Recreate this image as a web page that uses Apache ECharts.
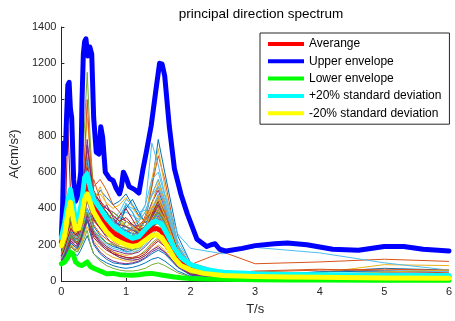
<!DOCTYPE html>
<html>
<head>
<meta charset="utf-8">
<script src="https://cdn.jsdelivr.net/npm/echarts@6/dist/echarts.min.js"></script>
<style>
  html, body { margin: 0; padding: 0; background: #fff; }
  #chart { width: 455px; height: 321px; }
</style>
</head>
<body>
<div id="chart"></div>
<script>
// Period grid (s) shared by the individual record spectra
const periods = [0, 0.05, 0.1, 0.15, 0.2, 0.25, 0.3, 0.35, 0.4, 0.45, 0.5, 0.6, 0.7, 0.8, 0.9, 1.0, 1.1, 1.2, 1.3, 1.4, 1.5, 1.6, 1.8, 2.0, 2.5, 3.0, 4.0, 5.0, 6.0];

// Individual record spectra, A (cm/s^2)
const rec01 = [150,220,300,260,240,280,420,560,680,520, 400,330,280,250,300,420,380,300,330,520, 780,600,250,100,45,30,50,70,60];
const rec02 = [130,180,240,350,300,260,320,500,720,600, 420,330,260,220,200,230,250,280,360,520, 690,560,200,90,160,95,105,120,108];
const rec03 = [120,160,200,280,240,300,420,640,900,700, 480,360,300,260,240,220,230,260,340,560, 730,520,180,70,30,25,45,90,85];
const rec04 = [110,150,190,230,210,220,300,420,520,430, 350,290,240,200,180,170,180,200,260,340, 420,360,160,60,35,30,32,35,33];
const rec05 = [140,200,280,330,260,300,500,800,1150,750, 480,380,320,270,240,230,250,280,330,400, 460,380,150,50,25,20,15,12,10];
const rec06 = [170,230,320,380,300,280,360,450,560,480, 400,330,300,320,350,380,360,340,420,760, 640,480,260,180,150,185,155,100,60];
const rec07 = [160,210,850,420,280,330,380,460,600,560, 500,430,380,330,300,280,260,240,260,300, 340,300,150,70,40,30,28,30,30];
const rec08 = [100,140,180,210,190,200,260,330,400,360, 300,250,210,190,180,160,170,190,240,300, 330,270,120,50,25,18,14,12,10];
const rec09 = [180,260,380,460,360,330,420,520,600,500, 420,360,330,300,260,240,230,250,300,400, 470,380,170,70,40,55,65,55,45];
const rec10 = [90,130,160,200,180,170,220,300,380,340, 280,230,190,160,150,140,150,170,220,290, 320,250,110,45,22,18,15,12,10];
const rec11 = [140,190,260,320,270,250,330,470,650,520, 400,320,270,240,220,200,190,200,240,300, 360,300,140,60,30,25,40,38,35];
const rec12 = [80,110,150,190,170,160,200,260,330,300, 260,210,180,150,130,120,125,140,170,210, 240,200,90,40,20,15,12,10,8];
const rec13 = [200,280,400,480,380,340,400,520,700,580, 460,380,340,330,360,420,400,360,420,560, 600,470,220,100,50,35,28,22,20];
const rec14 = [120,170,230,290,250,270,350,480,620,500, 380,310,260,230,210,200,200,210,250,330, 380,320,150,60,30,22,18,15,12];
const rec15 = [160,230,330,400,350,330,380,480,560,470, 420,380,340,300,320,400,450,380,320,360, 420,350,170,80,45,35,50,55,55];
const rec16 = [100,150,210,260,230,210,260,340,440,380, 310,260,230,210,190,180,190,210,260,340, 390,330,150,60,30,22,18,15,14];
const rec17 = [150,210,290,350,290,300,380,500,640,540, 430,360,320,290,280,300,320,330,380,480, 560,440,200,80,40,30,25,22,20];
const rec18 = [90,120,160,190,170,180,230,300,380,330, 270,220,190,170,160,150,150,160,190,230, 260,220,100,45,22,17,30,32,30];
const rec19 = [130,180,240,280,240,250,320,430,560,460, 360,300,260,240,230,220,210,220,260,320, 370,300,140,55,28,22,18,15,13];
const rec20 = [110,160,220,270,240,230,300,400,500,420, 340,290,260,250,270,300,290,270,300,380, 450,370,170,70,35,28,22,18,16];
const rec21 = [200,270,360,420,340,310,380,540,750,620, 480,400,350,330,310,300,280,270,300,360, 420,350,170,70,35,28,40,45,42];
const rec22 = [140,200,260,300,280,300,350,420,480,450, 440,500,460,420,440,480,420,360,330,380, 440,380,180,75,40,30,25,20,18];
const rec23 = [170,240,330,390,330,350,450,620,1000,650, 520,560,500,420,380,330,300,290,330,430, 520,420,190,75,38,28,22,20,18];
const rec24 = [120,170,240,290,260,270,340,420,560,500, 460,480,430,400,420,460,410,350,330,400, 470,380,170,65,33,25,20,17,15];
const rec25 = [150,210,290,340,300,310,400,560,780,600, 480,420,400,380,350,330,310,300,340,430, 500,400,180,70,35,27,35,33,30];
const rec26 = [110,160,220,260,230,230,290,380,480,420, 380,400,380,340,320,300,280,270,300,370, 430,360,160,60,30,22,18,15,13];
const rec27 = [130,190,260,320,280,280,360,470,620,520, 420,360,330,340,380,450,420,380,390,470, 560,450,200,80,40,30,24,20,18];
const rec28 = [100,140,190,240,220,210,280,380,500,430, 360,300,270,300,360,400,340,280,270,320, 380,320,150,60,30,23,18,15,13];
const rec29 = [90,110,140,170,150,140,170,210,250,200, 150,120,100,85,75,70,75,85,100,120, 130,110,55,25,13,10,8,7,6];
const rec30 = [120,150,190,220,200,190,230,290,340,300, 250,210,180,160,140,130,130,140,160,200, 230,190,90,40,20,15,12,10,9];
const rec31 = [100,130,170,200,180,170,200,250,300,260, 220,180,150,130,120,110,110,120,140,170, 200,170,80,35,18,14,11,9,8];
const rec32 = [130,160,210,250,220,200,240,300,370,320, 260,210,180,150,130,120,115,120,140,170, 190,160,80,35,18,14,25,28,27];
const rec33 = [105,130,160,190,170,160,190,230,280,200, 150,110,85,70,60,55,55,60,70,90, 100,85,45,22,11,9,7,6,5];
const rec34 = [140,180,230,270,240,220,260,320,400,340, 280,230,200,180,170,160,160,170,200,250, 290,240,110,45,22,17,14,12,10];
const rec35 = [115,150,200,250,220,200,230,280,330,290, 240,200,170,150,140,130,125,130,150,190, 220,190,90,38,19,14,12,10,9];
const rec36 = [170,240,310,360,330,300,380,460,520,430, 360,420,380,300,260,330,300,260,280,350, 400,330,160,65,32,25,20,17,15];
const rec37 = [140,190,260,300,270,300,400,560,640,480, 560,450,360,310,280,260,300,270,290,360, 450,380,170,70,35,27,22,18,16];
const rec38 = [160,220,300,340,300,320,430,520,560,480, 440,520,420,360,330,300,280,300,340,420, 540,430,180,70,35,26,22,19,17];
const rec39 = [130,170,230,270,250,260,330,460,560,600, 470,380,420,350,300,270,260,260,290,350, 420,340,150,60,30,24,20,17,15];
const rec40 = [190,260,350,400,350,320,380,460,580,520, 420,360,330,380,350,300,270,250,270,330, 400,330,160,65,32,25,20,17,15];
const rec41 = [150,200,280,340,300,280,340,440,550,470, 400,340,300,280,330,430,380,320,300,380, 480,400,190,75,38,28,22,19,17];
const rec42 = [170,230,310,370,320,350,430,520,620,560, 480,440,400,360,330,350,310,280,300,370, 440,360,170,70,35,27,22,18,16];
const rec43 = [110,150,210,250,230,240,300,380,450,400, 350,300,260,240,260,280,260,240,260,330, 400,340,160,60,30,23,18,15,13];
const rec44 = [150,200,270,320,280,270,330,420,520,460, 380,330,300,270,250,260,290,310,340,380, 410,340,160,65,33,50,60,65,60];
const rec45 = [130,180,250,300,260,250,310,390,470,420, 360,300,260,240,220,210,220,240,290,380, 450,360,160,60,30,22,30,50,60];
const rec46 = [160,210,280,330,300,330,380,440,520,480, 450,400,360,330,310,300,280,260,280,330, 370,310,150,60,30,24,20,17,15];
const rec47 = [120,160,210,250,220,210,250,310,380,330, 280,240,210,200,190,180,170,180,210,260, 300,250,110,45,22,17,14,12,10];
const rec48 = [180,250,340,390,350,330,400,500,610,530, 450,400,360,330,300,280,290,330,380,470, 520,430,200,80,40,30,25,21,19];
const rec49 = [140,200,280,340,290,270,330,400,480,420, 380,350,330,310,290,260,240,230,250,290, 330,280,130,55,28,21,17,14,12];
const rec50 = [100,130,170,210,190,180,220,280,340,260, 200,150,120,100,95,90,95,105,125,150, 170,150,75,32,16,12,10,8,7];
const rec51 = [125,170,230,280,240,230,290,370,450,390, 330,290,260,240,230,220,220,230,260,310, 350,290,130,55,28,21,17,14,12];
const rec52 = [145,190,250,300,270,280,340,420,500,440, 380,330,290,280,300,330,300,270,280,340, 400,340,160,62,31,24,19,16,14];
const rec53 = [105,140,180,220,200,190,230,290,360,280, 210,160,130,110,100,95,100,110,130,160, 180,160,80,35,17,13,11,9,8];
const rec54 = [155,210,290,340,300,290,350,440,540,470, 390,340,300,280,270,260,250,250,280,330, 380,320,150,60,30,23,19,16,14];
const rec55 = [125,170,230,280,250,240,300,370,440,390, 340,300,270,260,260,270,260,250,270,320, 370,310,140,58,29,22,18,15,13];
const rec56 = [135,180,240,290,260,250,300,370,450,400, 340,290,250,230,220,210,210,220,250,300, 340,290,140,58,29,22,18,15,13];

const records = [rec01, rec02, rec03, rec04, rec05, rec06, rec07, rec08, rec09, rec10,
                 rec11, rec12, rec13, rec14, rec15, rec16, rec17, rec18, rec19, rec20,
                 rec21, rec22, rec23, rec24, rec25, rec26, rec27, rec28, rec29, rec30,
                 rec31, rec32, rec33, rec34, rec35, rec36, rec37, rec38, rec39, rec40,
                 rec41, rec42, rec43, rec44, rec45, rec46, rec47, rec48, rec49, rec50,
                 rec51, rec52, rec53, rec54, rec55, rec56];

// Default line colour cycle for the records
const recordColors = ['#0072BD', '#D95319', '#EDB120', '#7E2F8E', '#77AC30', '#4DBEEE', '#A2142F'];

// Statistics of the record set
const statPeriods = [0, 0.05, 0.1, 0.14, 0.18, 0.22, 0.27, 0.32, 0.36, 0.4, 0.45, 0.5, 0.6, 0.7, 0.8, 0.9, 1.0, 1.1, 1.2, 1.3, 1.4, 1.47, 1.55, 1.65, 1.75, 1.85, 2.0, 2.2, 2.5, 3.0, 3.5, 4.0, 5.0, 6.0];
const average  = [215,285,405,470,390,305,315,410,510,535, 470,415,360,305,265,245,228,212,220,255, 285,290,275,215,150,105,75,52,38,32, 28,26,24,22];
const plus20   = [240,320,440,505,430,330,345,450,570,590, 510,450,400,345,305,280,255,235,245,285, 320,330,315,250,180,130,90,65,48,40, 36,34,32,30];
const minus20  = [195,250,370,435,350,285,290,370,450,480, 430,380,320,270,235,215,200,190,198,225, 250,255,240,185,125,85,60,42,30,25, 22,20,17,15];
const lowerEnv = [95,105,130,160,150,105,90,85,95,105, 80,70,55,40,42,35,33,32,35,40, 42,38,33,28,22,18,14,11,9,7, 6,5,4,4];

const upperPeriods = [0, 0.02, 0.04, 0.06, 0.08, 0.1, 0.12, 0.14, 0.16, 0.19, 0.22, 0.26, 0.3, 0.32, 0.34, 0.36, 0.38, 0.41, 0.44, 0.47, 0.5, 0.54, 0.58, 0.61, 0.64, 0.68, 0.75, 0.8, 0.85, 0.9, 0.93, 0.96, 1.0, 1.05, 1.13, 1.2, 1.26, 1.32, 1.39, 1.47, 1.52, 1.56, 1.6, 1.67, 1.75, 1.85, 1.95, 2.1, 2.25, 2.32, 2.38, 2.45, 2.55, 2.8, 3.0, 3.3, 3.5, 3.8, 4.2, 4.6, 5.0, 5.3, 5.6, 6.0];
const upperEnv = [250,420,760,700,900,1080,1095,950,900,560, 440,480,600,1000,1250,1320,1335,1240,1290,1250, 900,710,700,850,790,600,563,554,510,480, 520,600,570,520,505,485,610,720,855,1070, 1200,1195,1130,855,620,480,370,230,190,200, 205,175,165,180,195,205,210,200,175,170, 190,190,175,165];

// Axis ticks
const xTicks = { min: 0, max: 6, step: 1 };
const yTicks = { min: 0, max: 1400, step: 200 };

const FONT = '"Liberation Sans", Arial, Helvetica, sans-serif';
const INK = '#262626';

const pairs = (xs, ys) => xs.map((x, i) => [x, ys[i]]);

const recordSeries = records.map((vals, i) => ({
  name: 'record' + (i + 1),
  type: 'line',
  data: pairs(periods, vals),
  showSymbol: false,
  silent: true,
  z: 1,
  lineStyle: { width: 1, color: recordColors[i % recordColors.length] },
  itemStyle: { color: recordColors[i % recordColors.length] }
}));

function thick(name, xs, ys, color) {
  return {
    name: name,
    type: 'line',
    data: pairs(xs, ys),
    showSymbol: false,
    silent: true,
    z: 3,
    lineStyle: { width: 5, color: color, join: 'round', cap: 'round' },
    itemStyle: { color: color }
  };
}

const statSeries = [
  thick('Averange', statPeriods, average, '#FF0000'),
  thick('Upper envelope', upperPeriods, upperEnv, '#0000FF'),
  thick('Lower envelope', statPeriods, lowerEnv, '#00FF00'),
  thick('+20% standard deviation', statPeriods, plus20, '#00FFFF'),
  thick('-20% standard deviation', statPeriods, minus20, '#FFFF00')
];

const chart = echarts.init(document.getElementById('chart'), null, { renderer: 'canvas' });

chart.setOption({
  animation: false,
  backgroundColor: '#fff',
  textStyle: { fontFamily: FONT },
  title: {
    text: 'principal direction spectrum',
    left: 256, top: 2, textAlign: 'center',
    textStyle: { fontFamily: FONT, fontSize: 13.5, fontWeight: 'normal', color: '#000' }
  },
  grid: { left: 61, right: 3, top: 27, bottom: 38, containLabel: false },
  legend: {
    data: statSeries.map(s => s.name),
    orient: 'vertical',
    left: 260, top: 33,
    padding: [5, 8, 5, 8],
    itemGap: 5.3,
    itemWidth: 36, itemHeight: 4,
    icon: 'rect',
    backgroundColor: '#fff',
    borderColor: INK, borderWidth: 1, borderRadius: 0,
    selectedMode: false,
    textStyle: { fontFamily: FONT, fontSize: 12, color: '#000' }
  },
  xAxis: {
    type: 'value',
    min: xTicks.min, max: xTicks.max, interval: xTicks.step,
    name: 'T/s', nameLocation: 'middle', nameGap: 22,
    nameTextStyle: { fontFamily: FONT, fontSize: 13, color: INK },
    axisLine: { show: true, lineStyle: { color: INK, width: 1 } },
    axisTick: { show: true, inside: true, length: 3, lineStyle: { color: INK } },
    axisLabel: { margin: 5, fontFamily: FONT, fontSize: 11, color: INK, formatter: v => String(v) },
    splitLine: { show: false }
  },
  yAxis: {
    type: 'value',
    min: yTicks.min, max: yTicks.max, interval: yTicks.step,
    name: 'A(cm/s²)', nameLocation: 'middle', nameGap: 30,
    nameTextStyle: { fontFamily: FONT, fontSize: 13, color: INK },
    axisLine: { show: true, lineStyle: { color: INK, width: 1 } },
    axisTick: { show: true, inside: true, length: 3, lineStyle: { color: INK } },
    axisLabel: { margin: 5, fontFamily: FONT, fontSize: 11, color: INK, formatter: v => String(v) },
    splitLine: { show: false }
  },
  series: recordSeries.concat(statSeries)
});
</script>
</body>
</html>
